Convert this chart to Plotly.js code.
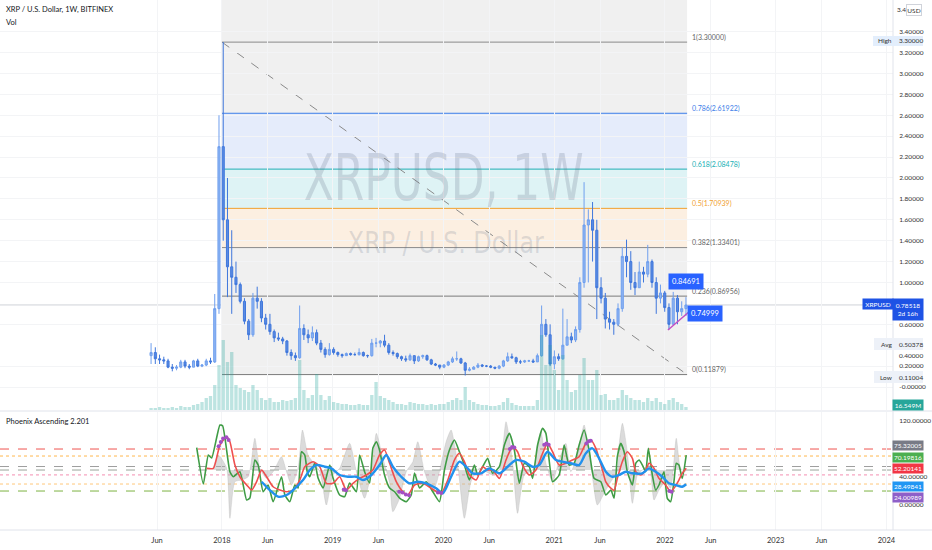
<!DOCTYPE html>
<html><head><meta charset="utf-8">
<script src="https://cdn.plot.ly/plotly-3.0.1.min.js"></script>
<style>html,body{margin:0;padding:0;background:#fff}#chart{width:932px;height:550px}</style>
</head><body><div id="chart"></div>
<script>
// ---------- price data: biweekly candles, first candle at decimal year 2017.36 ----------
const candleStartYear = 2017.36;
const candleStepDays = 14;
const candleOpen = [
 .30,.33,.27,.26,.25,.19,.18,.19,.24,.20,
 .19,.25,.20,.21,.25,.24,.75,2.30,1.60,1.15,
 1.05,.98,.82,.63,.50,.85,.82,.66,.60,.53,
 .47,.46,.44,.33,.30,.28,.56,.50,.47,.52,
 .42,.36,.31,.36,.33,.31,.30,.32,.31,.31,
 .33,.30,.30,.42,.42,.44,.40,.33,.32,.29,
 .27,.26,.30,.25,.29,.30,.26,.22,.21,.19,
 .21,.24,.27,.27,.23,.16,.17,.19,.21,.20,
 .20,.19,.18,.20,.25,.29,.28,.24,.24,.25,
 .25,.24,.30,.60,.50,.22,.29,.27,.40,.48,
 .45,.55,1.00,1.55,1.60,1.50,.95,.85,.65,.62,
 .60,.75,1.25,1.20,1.00,.95,1.10,1.08,1.20,1.00,
 .85,.90,.76,.60,.85,.72,.75];
const candleHigh = [
 .42,.38,.31,.29,.27,.22,.21,.26,.26,.22,
 .26,.27,.22,.27,.28,.89,2.60,3.30,2.00,1.50,
 1.20,1.00,.85,.65,.90,.96,.85,.70,.70,.55,
 .52,.48,.45,.36,.33,.78,.60,.55,.58,.55,
 .45,.38,.42,.38,.34,.32,.33,.33,.33,.37,
 .34,.31,.46,.47,.45,.50,.42,.35,.33,.30,
 .30,.32,.30,.30,.31,.31,.27,.23,.21,.22,
 .25,.29,.34,.28,.24,.19,.20,.23,.22,.21,
 .21,.19,.21,.26,.33,.32,.29,.26,.26,.26,
 .27,.32,.78,.65,.60,.35,.32,.75,.65,.52,
 .58,1.05,1.96,1.70,1.77,1.60,1.05,.90,.72,.65,
 .80,1.34,1.41,1.30,1.10,1.20,1.15,1.36,1.22,1.05,
 .98,.92,.80,.91,.88,.82,.86];
const candleLow = [
 .22,.22,.22,.22,.18,.15,.16,.18,.18,.17,
 .19,.19,.19,.20,.22,.23,.70,1.40,.86,.70,
 .90,.80,.60,.45,.48,.75,.62,.55,.50,.43,
 .44,.41,.30,.26,.25,.27,.45,.42,.44,.40,
 .33,.28,.30,.31,.29,.28,.30,.30,.30,.30,
 .29,.28,.29,.38,.38,.38,.31,.30,.27,.25,
 .24,.25,.22,.24,.27,.25,.21,.20,.17,.18,
 .20,.23,.25,.22,.11,.15,.17,.18,.19,.19,
 .18,.17,.17,.19,.24,.27,.22,.22,.23,.24,
 .23,.24,.29,.48,.20,.17,.25,.26,.40,.42,
 .43,.52,.95,1.00,1.20,.65,.80,.56,.55,.50,
 .58,.72,1.05,.93,.88,.95,1.00,1.05,.95,.70,
 .80,.72,.55,.60,.60,.68,.68];
const candleClose = [
 .33,.27,.26,.25,.19,.18,.19,.24,.20,.19,
 .25,.20,.21,.25,.24,.75,2.30,1.60,1.15,1.05,
 .98,.82,.63,.50,.85,.82,.66,.60,.53,.47,
 .46,.44,.33,.30,.28,.56,.50,.47,.52,.42,
 .36,.31,.36,.33,.31,.30,.32,.31,.31,.33,
 .30,.30,.42,.42,.44,.40,.33,.32,.29,.27,
 .26,.30,.25,.29,.30,.26,.22,.21,.19,.21,
 .24,.27,.27,.23,.16,.17,.19,.21,.20,.20,
 .19,.18,.20,.25,.29,.28,.24,.24,.25,.25,
 .24,.30,.60,.50,.22,.29,.27,.40,.48,.45,
 .55,1.00,1.55,1.60,1.50,.95,.85,.65,.62,.60,
 .75,1.25,1.20,1.00,.95,1.10,1.08,1.20,1.00,.85,
 .90,.76,.60,.85,.72,.75,.785];
const volume = [
 20,20,30,20,20,30,20,40,30,30,
 50,60,80,120,140,250,450,700,480,580,
 250,220,200,180,250,200,120,100,120,80,
 80,100,90,100,120,500,200,120,150,360,
 150,100,140,80,70,60,60,50,50,60,
 50,50,150,280,140,120,100,80,60,60,
 50,80,70,60,60,50,60,50,60,60,
 80,100,120,100,230,100,80,60,50,50,
 40,40,50,80,120,70,50,40,40,40,
 40,100,750,450,650,400,200,550,300,180,
 200,350,520,300,300,400,150,160,100,100,
 120,200,150,120,100,100,80,120,90,120,
 80,60,100,120,80,60,30];

// ---------- fibonacci retracement ----------
const fibStart = 2018.0, fibEnd = 2022.2;
const fibRatios = [1, 0.786, 0.618, 0.5, 0.382, 0.236, 0];
const fibPrices = [3.30, 2.61922, 2.08478, 1.70939, 1.33401, 0.86956, 0.11879];
const lastPrice = 0.78518;
const trendLine = {t:[2022.027, 2022.226], p:[0.545, 0.727]};

// ---------- time axis ticks ----------
const xTickVals = [2017.414,2018,2018.414,2019,2019.414,2020,2020.414,2021,2021.414,2022,2022.414,2023,2023.414,2024];
const xTickText = ['Jun','2018','Jun','2019','Jun','2020','Jun','2021','Jun','2022','Jun','2023','Jun','2024'];
const priceTicks = [0,0.2,0.6,1.0,1.2,1.4,1.6,1.8,2.0,2.2,2.4,2.6,2.8,3.0,3.2,3.4];

// ---------- Phoenix Ascending indicator [year, value] ----------
const green = [[2017.772,81.9],[2017.832,30],[2017.877,71.4],[2017.907,67.1],[2017.982,114.3],[2018.006,113.3],[2018.072,47.6],[2018.102,40.4],[2018.162,47.6],[2018.223,7.1],[2018.252,10],[2018.297,64.3],[2018.327,57.1],[2018.372,19],[2018.417,28.6],[2018.462,4.7],[2018.538,40.4],[2018.568,14.3],[2018.613,4.7],[2018.658,28.6],[2018.687,24.3],[2018.718,76.1],[2018.748,71.4],[2018.77,47.6],[2018.793,40.4],[2018.838,60],[2018.868,38.6],[2018.913,24.3],[2018.973,57.1],[2019.003,38.6],[2019.063,14.3],[2019.108,11.9],[2019.153,31.4],[2019.214,19],[2019.243,71.4],[2019.288,47.6],[2019.333,31.4],[2019.363,81.4],[2019.394,90.4],[2019.423,78.6],[2019.468,42.9],[2019.514,24.3],[2019.559,19],[2019.604,10],[2019.664,4.7],[2019.709,14.3],[2019.739,45.7],[2019.784,24.3],[2019.844,33.3],[2019.904,19],[2019.964,4.7],[2020.009,50],[2020.054,78.6],[2020.099,92.9],[2020.144,76.1],[2020.189,57.1],[2020.234,35.7],[2020.279,57.1],[2020.309,42.9],[2020.354,54.7],[2020.399,66.7],[2020.444,45.3],[2020.505,54.7],[2020.55,85.7],[2020.595,102.4],[2020.64,78.6],[2020.685,31],[2020.73,59.6],[2020.775,54.7],[2020.805,38.1],[2020.85,85.7],[2020.895,109.6],[2020.925,102.4],[2020.985,33.3],[2021.045,42.9],[2021.09,85.7],[2021.135,57.1],[2021.18,59.6],[2021.225,85.7],[2021.27,107.1],[2021.315,78.6],[2021.36,38.1],[2021.421,33.3],[2021.466,14.3],[2021.511,21.4],[2021.541,10],[2021.57,69],[2021.601,88.1],[2021.631,76.1],[2021.66,47.6],[2021.706,28.6],[2021.736,59.6],[2021.766,64.3],[2021.796,57.1],[2021.826,47.6],[2021.85,81],[2021.886,42.9],[2021.916,21.4],[2021.946,28.6],[2021.991,47.6],[2022.021,9.6],[2022.051,4.7],[2022.081,33.3],[2022.102,59.6],[2022.126,57.1],[2022.156,38.1],[2022.192,71.4]];
const red = [[2017.862,52.4],[2017.922,52.4],[2017.982,85.7],[2018.042,97.6],[2018.072,90.4],[2018.117,57.1],[2018.162,40.4],[2018.223,28.6],[2018.268,21.4],[2018.313,33.3],[2018.358,50],[2018.403,40.4],[2018.462,26.1],[2018.523,21.4],[2018.583,19],[2018.642,21.4],[2018.703,35.7],[2018.748,54.7],[2018.823,61.9],[2018.883,54.7],[2018.943,31],[2019.003,31],[2019.063,40.4],[2019.123,21.4],[2019.183,31],[2019.243,38.1],[2019.304,42.9],[2019.363,50],[2019.423,71.4],[2019.468,78.6],[2019.514,59.6],[2019.574,33.3],[2019.633,19],[2019.678,14.3],[2019.739,28.6],[2019.814,31],[2019.889,23.9],[2019.979,16.7],[2020.039,35.7],[2020.099,64.3],[2020.144,73.9],[2020.189,61.9],[2020.234,42.9],[2020.294,35.7],[2020.354,54.7],[2020.399,50],[2020.444,50],[2020.505,38.1],[2020.565,64.3],[2020.624,83.3],[2020.669,76.1],[2020.714,57.1],[2020.775,42.9],[2020.835,50],[2020.895,73.9],[2020.94,88.1],[2020.985,76.1],[2021.045,57.1],[2021.105,59.6],[2021.165,64.3],[2021.225,69],[2021.286,88.1],[2021.331,92.9],[2021.376,81],[2021.436,50],[2021.466,33],[2021.511,24],[2021.541,21],[2021.57,38.1],[2021.615,61.9],[2021.66,76.1],[2021.706,66.7],[2021.736,47.6],[2021.781,42.9],[2021.826,50],[2021.856,59.6],[2021.901,52.4],[2021.946,38.1],[2022.006,28.6],[2022.051,19],[2022.081,23.9],[2022.126,35.7],[2022.156,45.3],[2022.192,52.4]];
const blue = [[2018.358,33.3],[2018.432,21.4],[2018.507,11.9],[2018.583,14.3],[2018.642,21.4],[2018.732,35.7],[2018.793,50],[2018.853,57.1],[2018.928,54.7],[2018.988,52.4],[2019.063,42.9],[2019.138,40.4],[2019.214,40.4],[2019.273,35.7],[2019.349,42.9],[2019.423,57.1],[2019.484,71.4],[2019.543,54.7],[2019.619,40.4],[2019.694,31],[2019.768,33.3],[2019.844,31],[2019.934,23.9],[2019.994,16.7],[2020.069,40.4],[2020.144,61.9],[2020.205,54.7],[2020.264,45.3],[2020.34,45.3],[2020.414,52.4],[2020.505,45.3],[2020.579,54.7],[2020.655,64.3],[2020.73,61.9],[2020.805,54.7],[2020.865,57.1],[2020.94,76.1],[2021.015,64.3],[2021.075,61.9],[2021.15,59.6],[2021.225,57.1],[2021.286,73.9],[2021.345,81],[2021.405,66.7],[2021.466,47.6],[2021.525,40.4],[2021.586,42.9],[2021.646,47.6],[2021.706,45.3],[2021.796,45.3],[2021.856,52.4],[2021.916,47.6],[2021.976,40.4],[2022.036,31],[2022.096,28.6],[2022.156,26.1],[2022.192,29.6]];
const grayBand = [[2017.922,52.9],[2017.967,71.4],[2018.042,52.9],[2018.072,-19],[2018.117,33.3],[2018.177,35.7],[2018.237,40.4],[2018.297,95.3],[2018.342,52.4],[2018.403,38.1],[2018.462,47.6],[2018.538,69],[2018.583,47.6],[2018.628,28.6],[2018.687,52.4],[2018.727,107.1],[2018.778,71.4],[2018.883,47.6],[2018.943,0],[2019.003,42.9],[2019.063,52.4],[2019.153,88.1],[2019.214,47.6],[2019.288,9.6],[2019.349,47.6],[2019.394,102.4],[2019.453,66.7],[2019.514,31],[2019.543,-9.6],[2019.604,9.6],[2019.664,47.6],[2019.724,61.9],[2019.768,90.4],[2019.829,47.6],[2019.904,19],[2019.949,38.1],[2020.024,90.4],[2020.069,107.1],[2020.129,57.1],[2020.189,-19],[2020.249,33.3],[2020.324,52.4],[2020.384,47.6],[2020.444,42.9],[2020.505,50],[2020.565,119],[2020.624,61.9],[2020.669,-11.9],[2020.73,42.9],[2020.805,50],[2020.88,104.7],[2020.925,59.6],[2020.985,33.3],[2021.045,64.3],[2021.105,88.1],[2021.15,47.6],[2021.21,71.4],[2021.27,114.3],[2021.331,57.1],[2021.39,0],[2021.45,16.7],[2021.511,33.3],[2021.57,47.6],[2021.586,85.7],[2021.616,116.7],[2021.66,76.1],[2021.706,2.4],[2021.751,42.9],[2021.796,50],[2021.856,57.1],[2021.901,7.1],[2021.946,21.4],[2022.006,33.3],[2022.051,23.9],[2022.102,95.3],[2022.141,52.4],[2022.186,47.6]];
const grayBaseline = 50;
const purpleDots = [[2017.97,84],[2017.99,90],[2018.01,95],[2018.04,97],[2018.06,93],[2019.10,22],[2019.12,21],[2019.60,19],[2019.63,18],[2019.66,15],[2019.69,14],[2019.95,18],[2019.98,17],[2020.60,80],[2020.62,83],[2020.64,82],[2020.91,86],[2020.93,88],[2020.95,86],[2021.29,88],[2021.31,91],[2021.33,92],[2022.04,20],[2022.06,19]];
const indLevels = [80, 70, 55, 50, 43, 30, 20];
const lastValues = [['75.32005','#787b86',445],['70.19816','#4caf50',457],['52.20141','#f23645',468],['28.49841','#2196f3',486],['24.00989','#8e5fc8',497]];

// ---------- helpers ----------
const W = 932, PH = 530;
const px = x => x / W;
const py = y => 1 - y / PH;
const candleT = candleClose.map((_, i) => candleStartYear + i * candleStepDays / 365.25);
const col = (arr, k) => arr.map(r => r[k]);

const traces = [];
traces.push({type:'bar', x:candleT, y:volume, xaxis:'x', yaxis:'y3', width:0.03,
  marker:{color:'rgba(38,166,154,0.30)', line:{width:0}}, hoverinfo:'skip'});
traces.push({type:'candlestick', x:candleT, open:candleOpen, high:candleHigh, low:candleLow, close:candleClose,
  xaxis:'x', yaxis:'y', whiskerwidth:0,
  increasing:{line:{color:'#6f9fee', width:1}, fillcolor:'#8db4f2'},
  decreasing:{line:{color:'#3f77dc', width:1}, fillcolor:'#5a8be3'}, hoverinfo:'skip'});
traces.push({type:'scatter', mode:'lines', x:trendLine.t, y:trendLine.p, xaxis:'x', yaxis:'y',
  line:{color:'#c34fc2', width:1.5}, hoverinfo:'skip'});
// indicator
traces.push({type:'scatter', mode:'lines', x:[grayBand[0][0], grayBand[grayBand.length-1][0]], y:[grayBaseline, grayBaseline],
  xaxis:'x', yaxis:'y2', line:{width:0, color:'rgba(0,0,0,0)'}, hoverinfo:'skip'});
traces.push({type:'scatter', mode:'lines', x:col(grayBand,0), y:col(grayBand,1), xaxis:'x', yaxis:'y2',
  fill:'tonexty', fillcolor:'rgba(175,175,175,0.45)', line:{color:'rgba(175,175,175,0.6)', width:0.5, shape:'spline', smoothing:0.6}, hoverinfo:'skip'});
traces.push({type:'scatter', mode:'lines', x:col(green,0), y:col(green,1), xaxis:'x', yaxis:'y2',
  line:{color:'#3f9c45', width:1.6, shape:'spline', smoothing:0.5}, hoverinfo:'skip'});
traces.push({type:'scatter', mode:'lines', x:col(red,0), y:col(red,1), xaxis:'x', yaxis:'y2',
  line:{color:'#ef4f4f', width:1.6, shape:'spline', smoothing:0.6}, hoverinfo:'skip'});
traces.push({type:'scatter', mode:'lines', x:col(blue,0), y:col(blue,1), xaxis:'x', yaxis:'y2',
  line:{color:'#2191ee', width:2.4, shape:'spline', smoothing:0.7}, hoverinfo:'skip'});
traces.push({type:'scatter', mode:'markers', x:col(purpleDots,0), y:col(purpleDots,1), xaxis:'x', yaxis:'y2',
  marker:{color:'#a24fc4', size:4}, hoverinfo:'skip'});

// ---------- shapes ----------
const shapes = [];
const fibFill = ['#f0f0f0','#e5ecfb','#def3f5','#fcefe1','#f0f0f0','#f0f0f0'];
const fibLine = ['#8a8a8a','#3d7ee8','#21b0b5','#f0a030','#8a8a8a','#7a7a7a','#7a7a7a'];
shapes.push({type:'rect', xref:'x', yref:'y', x0:fibStart, x1:fibEnd, y0:fibPrices[0], y1:3.703,
  fillcolor:fibFill[0], line:{width:0}, layer:'below'});
for (let k = 0; k < fibPrices.length - 1; k++) {
  shapes.push({type:'rect', xref:'x', yref:'y', x0:fibStart, x1:fibEnd, y0:fibPrices[k+1], y1:fibPrices[k],
    fillcolor:fibFill[k], line:{width:0}, layer:'below'});
}
fibPrices.forEach((p, k) => shapes.push({type:'line', xref:'x', yref:'y', x0:fibStart, x1:fibEnd, y0:p, y1:p,
  line:{color:fibLine[k], width:1}, layer:'below'}));
shapes.push({type:'line', xref:'x', yref:'y', x0:fibStart, x1:fibEnd, y0:fibPrices[0], y1:fibPrices[fibPrices.length-1],
  line:{color:'#8a8a8a', width:1, dash:'dash'}, layer:'below'});
shapes.push({type:'line', xref:'paper', yref:'y', x0:0, x1:px(863), y0:lastPrice, y1:lastPrice,
  line:{color:'#cfd2d8', width:1}, layer:'below'});
const lvlStyle = [['#ef5350','dash'],['#ffb74d','dot'],['#9e9e9e','dash'],['#9aa59a','dash'],['#f48fb1','dot'],['#ffc77a','dot'],['#7cb342','dash']];
indLevels.forEach((v, k) => shapes.push({type:'line', xref:'paper', yref:'y2', x0:0, x1:px(893), y0:v, y1:v,
  line:{color:lvlStyle[k][0], width:1, dash:lvlStyle[k][1]}, layer:'below'}));
// pane separators
shapes.push({type:'line', xref:'paper', yref:'paper', x0:0, x1:1, y0:py(411), y1:py(411), line:{color:'#e0e3eb', width:1}});
shapes.push({type:'line', xref:'paper', yref:'paper', x0:0, x1:1, y0:py(530), y1:py(530), line:{color:'#e0e3eb', width:1}});
shapes.push({type:'line', xref:'paper', yref:'paper', x0:px(893), x1:px(893), y0:0, y1:1, line:{color:'#e0e3eb', width:1}});

// ---------- annotations ----------
const ann = [];
const txt = (x, y, text, o = {}) => ann.push(Object.assign({xref:'paper', yref:'paper', x:px(x), y:py(y), text,
  showarrow:false, xanchor:'left', yanchor:'middle', font:{size:6.5, color:'#333'}}, o));
const box = (cx, cy, w, h, text, bg, color, o = {}) => ann.push(Object.assign({xref:'paper', yref:'paper', x:px(cx), y:py(cy),
  text, showarrow:false, xanchor:'center', yanchor:'middle', width:w, height:h, bgcolor:bg, borderpad:0,
  font:{size:6.5, color}}, o));

// watermark (compressed horizontally after drawing)
const WM_FONT = 'DejaVu Sans Condensed, DejaVu Sans, sans-serif';
ann.push({xref:'paper', yref:'paper', x:px(443), y:py(178), text:'XRPUSD, 1W', showarrow:false,
  font:{family:WM_FONT, size:64, color:'rgba(95,110,130,0.22)'}});
ann.push({xref:'paper', yref:'paper', x:px(446), y:py(242), text:'XRP / U.S. Dollar', showarrow:false,
  font:{family:WM_FONT, size:31, color:'rgba(95,110,130,0.2)'}});

txt(4, 10, 'XRP / U.S. Dollar, 1W, BITFINEX', {font:{size:7.5, color:'#131722'}});
txt(4, 23, 'Vol', {font:{size:7.5, color:'#131722'}});
txt(4, 421, 'Phoenix Ascending 2.201', {font:{size:7.5, color:'#131722'}});

// fib labels
fibPrices.forEach((p, k) => ann.push({xref:'x', yref:'y', x:fibEnd + 0.025, y:p, yshift:5,
  text:`${fibRatios[k]}(${p.toFixed(5)})`, showarrow:false, xanchor:'left', yanchor:'middle',
  font:{size:7, color:fibLine[k] === '#7a7a7a' || fibLine[k] === '#8a8a8a' ? '#666' : fibLine[k]}}));

// drawing labels
ann.push({xref:'x', yref:'y', x:2022.19, y:1.014, text:'0.84691', showarrow:false, bgcolor:'#2962ff',
  borderpad:3, font:{size:7.5, color:'#fff'}});
ann.push({xref:'x', yref:'y', x:2022.36, y:0.708, text:'0.74999', showarrow:false, bgcolor:'#2962ff',
  borderpad:3, font:{size:7.5, color:'#fff'}});

// right axis price labels
txt(895, 10, '3.4');
box(914, 10, 14, 10, 'USD', '#ffffff', '#333', {bordercolor:'#d0d3da', borderwidth:1});
shapes.push({type:'rect', xref:'paper', yref:'paper', x0:px(873), x1:px(923), y0:py(46), y1:py(36), fillcolor:'#e3eefc', line:{width:0}});
txt(876, 41, 'High');
txt(897, 41, '3.30000');
box(878, 304, 30, 10, 'XRPUSD', '#1e53e5', '#fff');
box(908, 309.5, 30, 21, '0.78518<br>2d 16h', '#1e53e5', '#fff');
shapes.push({type:'rect', xref:'paper', yref:'paper', x0:px(874), x1:px(923), y0:py(350), y1:py(338), fillcolor:'#edf1f8', line:{width:0}});
txt(879, 344, 'Avg');
txt(897, 344, '0.50378');
txt(897, 355, '0.40000');
shapes.push({type:'rect', xref:'paper', yref:'paper', x0:px(874), x1:px(923), y0:py(383), y1:py(371), fillcolor:'#edf1f8', line:{width:0}});
txt(878, 377, 'Low');
txt(897, 377, '0.11004');
box(908, 405, 30, 10, '16.549M', '#26a69a', '#fff');
// indicator last values
lastValues.forEach(([t, c, y]) => box(908, y, 30, 9, t, c, '#fff'));

const layout = {
  width:932, height:550, margin:{l:0, r:0, t:0, b:20},
  paper_bgcolor:'#ffffff', plot_bgcolor:'#ffffff', showlegend:false,
  font:{family:'Lato, "Open Sans", sans-serif', size:8, color:'#333'},
  xaxis:{domain:[0, 893/932], range:[2015.996, 2024.059], anchor:'y2', tickvals:xTickVals, ticktext:xTickText,
    showgrid:true, gridcolor:'#f3f4f6', zeroline:false, showline:false, ticks:'outside', ticklen:3,
    tickcolor:'rgba(0,0,0,0)', tickfont:{size:7.5, color:'#333'}, rangeslider:{visible:false}, fixedrange:true},
  yaxis:{domain:[1 - 410/530, 1], range:[-0.220, 3.703], side:'right', anchor:'x', tickvals:priceTicks,
    ticktext:priceTicks.map(v => v === 0 ? '-0.00000' : v.toFixed(5)), showgrid:true, gridcolor:'#f3f4f6',
    zeroline:false, ticks:'outside', ticklen:4, tickcolor:'rgba(0,0,0,0)', tickfont:{size:6.5, color:'#333'}, fixedrange:true},
  yaxis2:{domain:[0, (530-412)/530], range:[-35.7, 132.9], side:'right', anchor:'x', tickvals:[0,40,120],
    ticktext:['0.00000','40.00000','120.00000'], showgrid:false, zeroline:false, ticks:'outside', ticklen:4,
    tickcolor:'rgba(0,0,0,0)', tickfont:{size:6.5, color:'#333'}, fixedrange:true},
  yaxis3:{overlaying:'y', range:[0, 4100], visible:false, fixedrange:true},
  shapes, annotations:ann
};
Plotly.newPlot('chart', traces, layout, {staticPlot:true, displayModeBar:false}).then(gd => {
  const targets = {'XRPUSD, 1W':280, 'XRP / U.S. Dollar':196};
  gd.querySelectorAll('text.annotation-text').forEach(t => {
    const w = targets[t.textContent];
    if (w) {
      t.setAttribute('textLength', w);
      t.setAttribute('lengthAdjust', 'spacingAndGlyphs');
      t.querySelectorAll('tspan').forEach(s => { s.setAttribute('textLength', w); s.setAttribute('lengthAdjust', 'spacingAndGlyphs'); });
    }
  });
});
</script></body></html>
